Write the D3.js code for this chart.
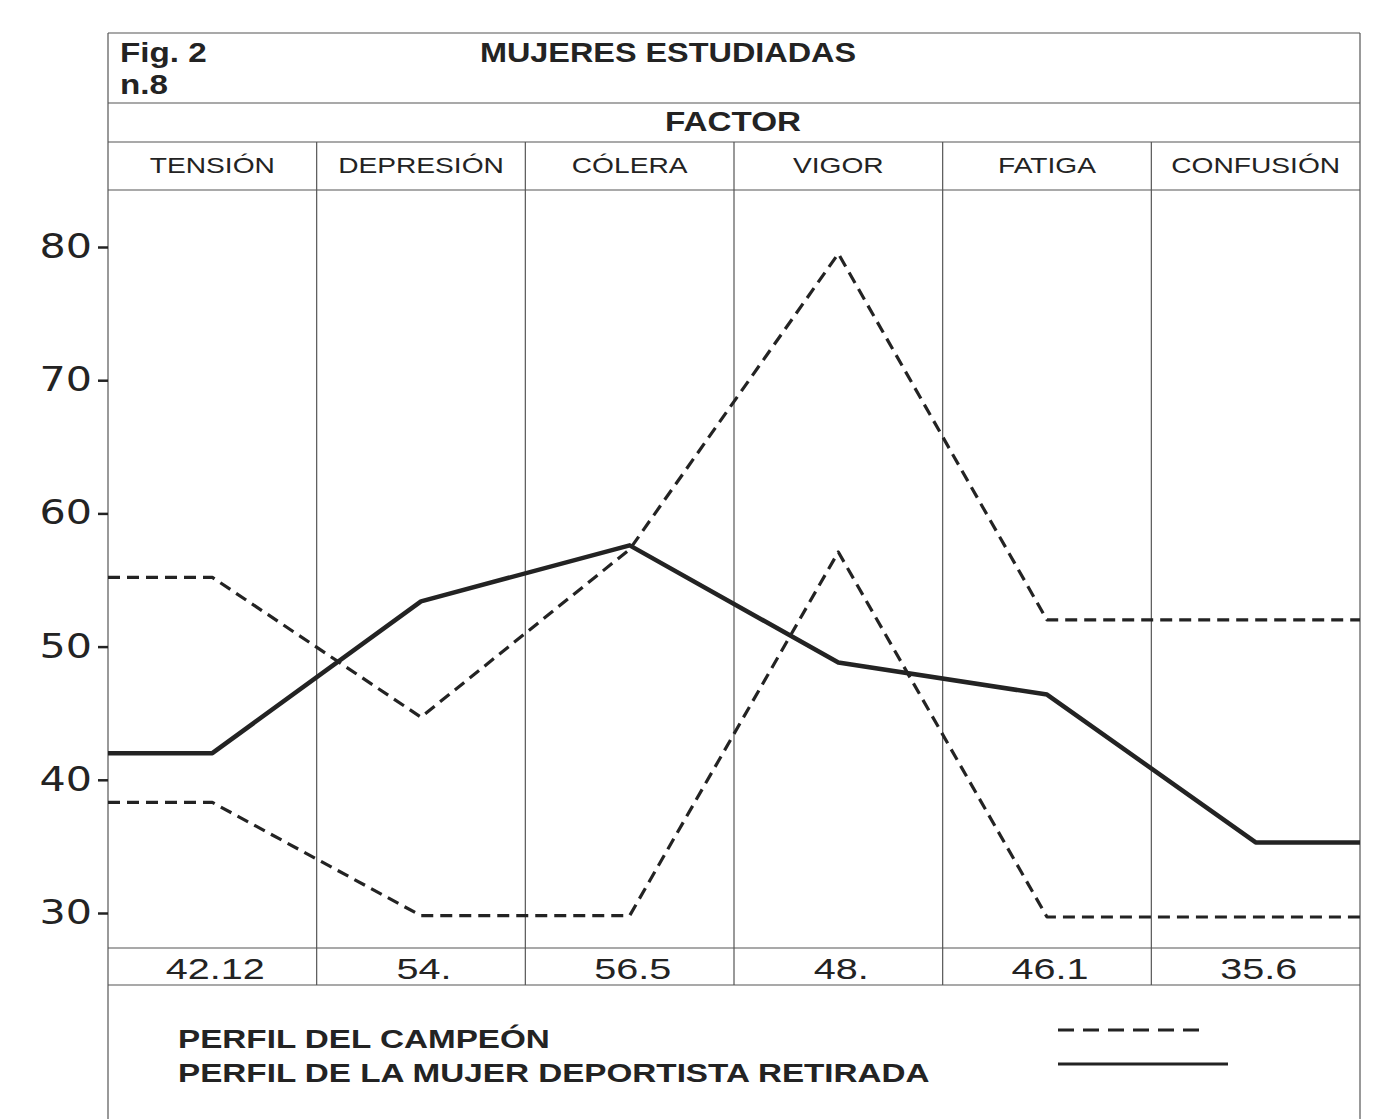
<!DOCTYPE html>
<html>
<head>
<meta charset="utf-8">
<script src="https://cdn.jsdelivr.net/npm/d3@7"></script>
<style>
	body { margin: 0; background: #fff; }
	svg { display: block; }
</style>
</head>
<body>
<div id="chart"></div>
<script>
// factors shown in the header row
const factors = ["TENSIÓN", "DEPRESIÓN", "CÓLERA", "VIGOR", "FATIGA", "CONFUSIÓN"];
// numbers printed in the row under the plot
const tableValues = ["42.12", "54.", "56.5", "48.", "46.1", "35.6"];
// solid line - perfil de la mujer deportista retirada
const retirada = [42.0, 53.4, 57.6, 48.8, 46.4, 35.3];
// dashed lines - perfil del campeón (upper and lower bound)
const campeonUpper = [55.2, 44.7, 57.3, 79.5, 52.0, 52.0];
const campeonLower = [38.3, 29.8, 29.8, 57.1, 29.7, 29.7];
// y axis ticks
const yTicks = [30, 40, 50, 60, 70, 80];

const width = 1377;
const height = 1119;

const left = 108;
const right = 1360;
const plotTop = 190;
const plotBottom = 948;

const svg = d3
	.select("#chart")
	.append("svg")
	.attr("width", width)
	.attr("height", height);

const ink = "#232323";
const rule = "#555";

const x = d3.scaleBand().domain(factors).range([left, right]);
const y = d3.scaleLinear().domain([30, 80]).range([913, 247]);

// outer frame and header rows
const frame = svg.append("g").attr("stroke", rule).attr("stroke-width", 1.2).attr("fill", "none");
frame.append("line").attr("x1", left).attr("x2", left).attr("y1", 33).attr("y2", height);
frame.append("line").attr("x1", right).attr("x2", right).attr("y1", 33).attr("y2", height);
[33, 103, 142, plotTop, plotBottom, 985].forEach((yy) => {
	frame.append("line").attr("x1", left).attr("x2", right).attr("y1", yy).attr("y2", yy);
});

// column separators from the factor row down to the value row
frame
	.selectAll("line.col")
	.data(factors.slice(1))
	.enter()
	.append("line")
	.attr("class", "col")
	.attr("x1", (d) => x(d))
	.attr("x2", (d) => x(d))
	.attr("y1", 142)
	.attr("y2", 985);

const sans = "'Liberation Sans', Arial, sans-serif";

// the scanned type is wider than Arial, so texts get stretched horizontally
const wide = (sel, tx, ty, sx) => sel.attr("transform", `translate(${tx},${ty}) scale(${sx},1)`);

const header = svg.append("g")
	.attr("font-family", sans)
	.attr("font-weight", "bold")
	.attr("font-size", 27)
	.attr("fill", ink);
wide(header.append("text").text("Fig. 2"), 120, 62, 1.23);
wide(header.append("text").text("n.8"), 120, 94, 1.23);
wide(header.append("text").attr("text-anchor", "middle").text("MUJERES ESTUDIADAS"), 668, 62, 1.2);
wide(header.append("text").attr("text-anchor", "middle").text("FACTOR"), 733, 131, 1.23);

// factor names
svg.append("g")
	.selectAll("text")
	.data(factors)
	.enter()
	.append("text")
	.attr("transform", (d) => `translate(${x(d) + x.bandwidth() / 2},173) scale(1.28,1)`)
	.attr("text-anchor", "middle")
	.attr("font-family", sans)
	.attr("font-size", 22)
	.attr("fill", ink)
	.text((d) => d);

// values row
svg.append("g")
	.selectAll("text")
	.data(tableValues)
	.enter()
	.append("text")
	.attr("transform", (d, i) => `translate(${x(factors[i]) + x.bandwidth() / 2 + 3},979) scale(1.32,1)`)
	.attr("text-anchor", "middle")
	.attr("font-family", sans)
	.attr("font-size", 30)
	.attr("fill", ink)
	.text((d) => d);

// y axis - ticks only on the left edge, no domain line (frame draws it)
const yAxis = svg
	.append("g")
	.attr("transform", `translate(${left},0)`)
	.call(d3.axisLeft(y).tickValues(yTicks).tickSize(10).tickPadding(16));
yAxis.select(".domain").remove();
yAxis.selectAll(".tick line").attr("stroke", ink).attr("stroke-width", 2.5);
yAxis
	.selectAll(".tick text")
	.attr("x", -16 / 1.25)
	.attr("transform", "scale(1.25,1)")
	.attr("font-family", "'DejaVu Sans', sans-serif")
	.attr("font-size", 33)
	.attr("fill", ink);

// a line runs flat from the left edge to the first column centre and from
// the last column centre to the right edge
const toPoints = (values) => {
	const pts = values.map((v, i) => [x(factors[i]) + x.bandwidth() / 2, y(v)]);
	return [[left, y(values[0])], ...pts, [right, y(values[values.length - 1])]];
};
const line = d3.line();

const lines = svg.append("g").attr("fill", "none").attr("stroke", ink).attr("stroke-linejoin", "round");

[campeonUpper, campeonLower].forEach((series) => {
	lines
		.append("path")
		.attr("d", line(toPoints(series)))
		.attr("stroke-width", 3.2)
		.attr("stroke-dasharray", "12,7");
});

lines
	.append("path")
	.attr("d", line(toPoints(retirada)))
	.attr("stroke-width", 4.5);

// legend
const legend = svg.append("g")
	.attr("font-family", sans)
	.attr("font-weight", "bold")
	.attr("font-size", 25)
	.attr("fill", ink);
wide(legend.append("text").text("PERFIL DEL CAMPEÓN"), 178, 1048, 1.33);
wide(legend.append("text").text("PERFIL DE LA MUJER DEPORTISTA RETIRADA"), 178, 1082, 1.33);

legend.append("line")
	.attr("x1", 1058).attr("x2", 1205).attr("y1", 1030).attr("y2", 1030)
	.attr("stroke", ink).attr("stroke-width", 3).attr("stroke-dasharray", "16,9");
legend.append("line")
	.attr("x1", 1058).attr("x2", 1228).attr("y1", 1064).attr("y2", 1064)
	.attr("stroke", ink).attr("stroke-width", 3);
</script>
</body>
</html>
